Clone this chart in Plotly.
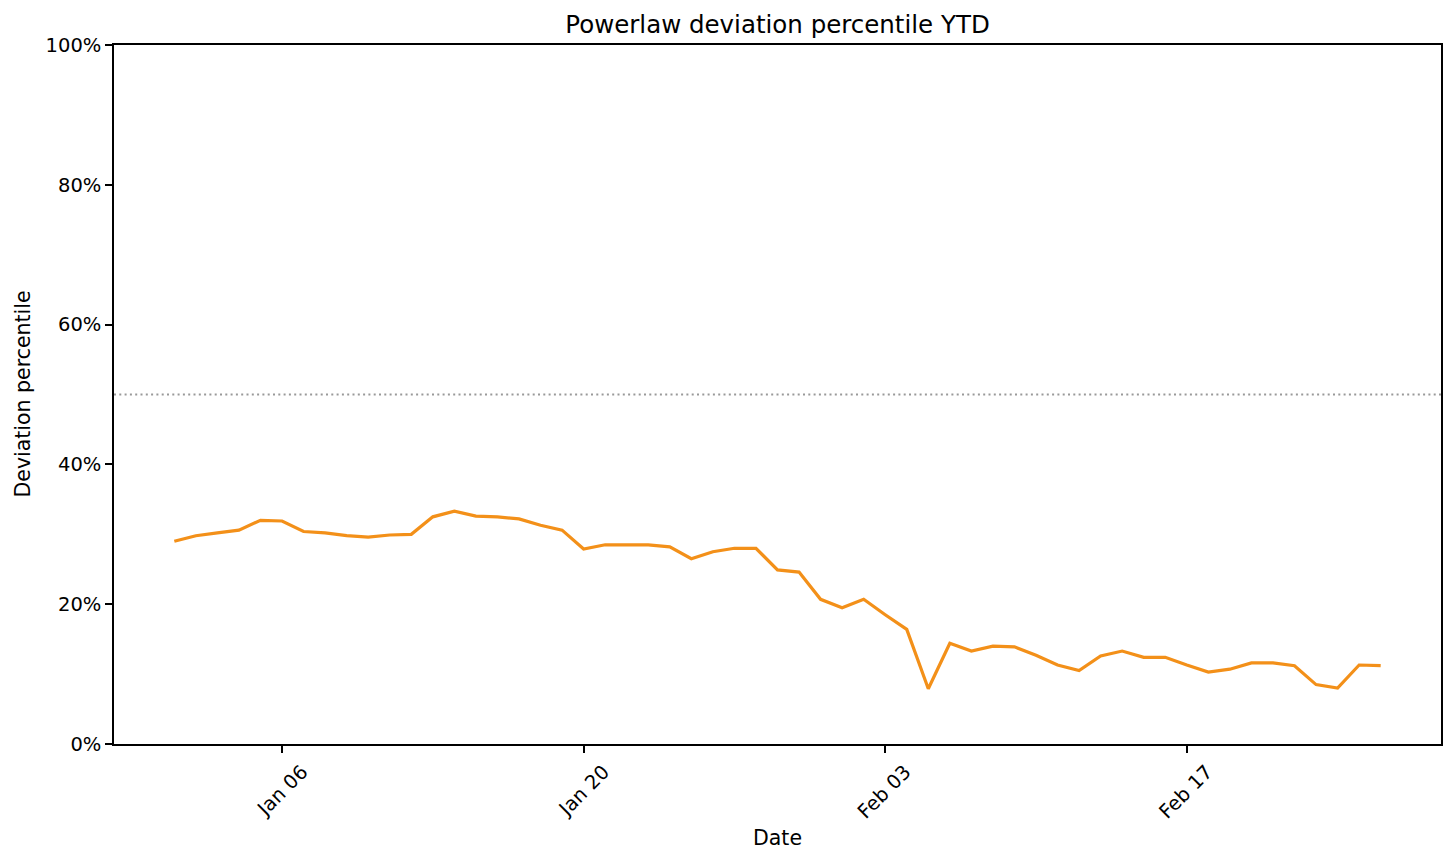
import pandas as pd
import plotly.graph_objects as go

start_date = "2025-01-01"
percentile = [
    29.0, 29.8, 30.2, 30.6, 32.0, 31.9, 30.4, 30.2, 29.8, 29.6,
    29.9, 30.0, 32.5, 33.3, 32.6, 32.5, 32.2, 31.3, 30.6, 27.9,
    28.5, 28.5, 28.5, 28.2, 26.5, 27.5, 28.0, 28.0, 24.9, 24.6,
    20.7, 19.5, 20.7, 18.5, 16.4, 7.9, 14.4, 13.3, 14.0, 13.9,
    12.7, 11.3, 10.5, 12.6, 13.3, 12.4, 12.4, 11.3, 10.3, 10.7,
    11.6, 11.6, 11.2, 8.5, 8.0, 11.3, 11.2,
]
dates = pd.date_range(start_date, periods=len(percentile), freq="D")

reference_level = 50
x_tick_dates = ["2025-01-06", "2025-01-20", "2025-02-03", "2025-02-17"]
x_tick_labels = ["Jan 06", "Jan 20", "Feb 03", "Feb 17"]
y_tick_vals = [0, 20, 40, 60, 80, 100]
y_tick_labels = ["0%", "20%", "40%", "60%", "80%", "100%"]

span = dates[-1] - dates[0]
pad = span * 0.05
x_range = [dates[0] - pad, dates[-1] + pad]

FONT = "DejaVu Sans"

fig = go.Figure()
fig.add_trace(go.Scatter(
    x=dates, y=percentile, mode="lines",
    line=dict(color="#F39019", width=3.2),
    showlegend=False,
))

fig.add_shape(
    type="line", xref="paper", x0=0, x1=1, yref="y",
    y0=reference_level, y1=reference_level,
    line=dict(color="#999999", width=2, dash="2px,3.3px"),
    layer="below",
)

axis_common = dict(
    showline=True, linecolor="black", linewidth=1.5, mirror=True,
    ticks="outside", ticklen=7, tickwidth=1.5, tickcolor="black",
    showgrid=False, zeroline=False,
    tickfont=dict(family=FONT, size=19.5, color="black"),
)

fig.update_layout(
    width=1456, height=864,
    margin=dict(l=114, r=15, t=45, b=120),
    paper_bgcolor="white", plot_bgcolor="white",
    font=dict(family=FONT, color="black"),
    title=dict(
        text="Powerlaw deviation percentile YTD",
        font=dict(family=FONT, size=24.5, color="black"),
        x=0.5, xref="paper", xanchor="center",
        y=1 - 24 / 864, yref="container", yanchor="middle",
    ),
    xaxis=dict(
        range=x_range,
        tickvals=x_tick_dates, ticktext=x_tick_labels,
        tickangle=-45, ticklabelshift=20,
        **axis_common,
    ),
    yaxis=dict(
        range=[0, 100],
        tickvals=y_tick_vals, ticktext=y_tick_labels,
        **axis_common,
    ),
    annotations=[
        dict(text="Date", xref="paper", x=0.5, yref="paper",
             y=-(838 - 744) / (744 - 45), xanchor="center", yanchor="middle",
             showarrow=False, font=dict(family=FONT, size=20.5, color="black")),
        dict(text="Deviation percentile", xref="paper",
             x=-(114 - 22) / (1441 - 114), yref="paper", y=0.5,
             xanchor="center", yanchor="middle", textangle=-90,
             showarrow=False, font=dict(family=FONT, size=20.5, color="black")),
    ],
)

fig.write_html(
    "out.html",
    config={"displayModeBar": False},
    post_script="document.body.style.margin='0';document.body.style.padding='0';",
)
